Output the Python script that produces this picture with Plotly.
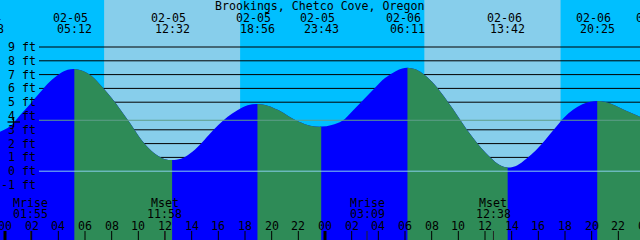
import plotly.graph_objects as go

# ---------------- data ----------------
TITLE = "Brookings, Chetco Cove, Oregon"
DAY_INDEX = {"02-04": -1, "02-05": 0, "02-06": 1, "02-07": 2}

# tide extremes (date, time, height ft, kind)
ext_dates = ["02-04", "02-05", "02-05", "02-05", "02-05", "02-06", "02-06", "02-06", "02-07"]
ext_times = ["22:38", "05:12", "12:32", "18:56", "23:43", "06:11", "13:42", "20:25", "00:55"]
ext_ft = [2.6, 7.41, 0.81, 4.87, 3.23, 7.50, 0.26, 5.09, 3.6]
ext_kind = ["low", "high", "low", "high", "low", "high", "low", "high", "low"]

# intermediate tide heights (hours after 02-05 00:00, ft)
curve_hours_read = [
    -0.375, 0.375, 1.125, 1.875, 2.625, 3.375, 4.125, 4.7,
    5.75, 6.5, 7.3, 8.0, 8.7, 9.4, 10.1, 10.8, 11.5, 12.0,
    13.2, 13.9, 14.6, 15.3, 16.0, 16.7, 17.4, 18.2,
    19.7, 20.5, 21.3, 22.1, 22.9,
    24.5, 25.3, 26.1, 26.9, 27.7, 28.5, 29.3, 29.8,
    30.8, 31.5, 32.2, 32.9, 33.6, 34.3, 35.0, 35.7, 36.4, 37.1,
    38.4, 39.1, 39.8, 40.5, 41.2, 41.9, 42.6, 43.3, 43.9,
    45.1, 45.8, 46.5, 47.2, 47.9,
]
curve_ft_read = [
    2.86, 3.25, 4.05, 4.85, 5.7, 6.5, 7.08, 7.35,
    7.3, 6.9, 6.1, 5.3, 4.4, 3.45, 2.45, 1.65, 1.1, 0.87,
    0.9, 1.3, 1.9, 2.65, 3.35, 3.95, 4.4, 4.78,
    4.75, 4.43, 3.97, 3.57, 3.3,
    3.35, 3.65, 4.4, 5.2, 6.0, 6.75, 7.25, 7.45,
    7.38, 6.95, 6.3, 5.45, 4.5, 3.5, 2.55, 1.7, 1.0, 0.45,
    0.42, 0.9, 1.5, 2.25, 3.05, 3.85, 4.45, 4.85, 5.03,
    5.0, 4.75, 4.42, 4.12, 3.85,
]

# daylight (sunrise, sunset pairs)
sun_dates = ["02-05", "02-05", "02-06", "02-06"]
sun_times = ["07:26", "17:38", "07:27", "17:40"]

# moon events
moon_labels = ["Mrise", "Mset", "Mrise", "Mset"]
moon_dates = ["02-05", "02-05", "02-06", "02-06"]
moon_times = ["01:55", "11:58", "03:09", "12:38"]

ft_labels = [9, 8, 7, 6, 5, 4, 3, 2, 1, 0, -1]
grid_ft = [9, 8, 7, 6, 5, 3, 2, 1]
mean_ft = 3.69
datum_ft = 0
hour_ticks = list(range(0, 48, 2))
hour_labels_at = list(range(0, 50, 2))

# ---------------- styles / geometry ----------------
W, H = 640, 240
X0, X1 = -0.375, 47.625
Y0, Y1 = -4.986, 12.406
NIGHT = "#00BFFF"
DAY = "#87CEEB"
RISE = "#0000FF"
FALL = "#2E8B57"
MEAN_C = "#5F9E8A"
DATUM_C = "#87CEEB"
FONT = dict(family="DejaVu Sans Mono", size=11.6, color="black")


def hrs(date, t):
    return DAY_INDEX[date] * 24 + int(t[:2]) + int(t[3:]) / 60.0


def paper_x(h):
    return (h - X0) / (X1 - X0)


def py(px):
    return 1 - px / H


ext_h = [hrs(d, t) for d, t in zip(ext_dates, ext_times)]
pts = sorted(list(zip(ext_h, ext_ft)) + list(zip(curve_hours_read, curve_ft_read)))
curve_h = [p[0] for p in pts]
curve_v = [p[1] for p in pts]

fig = go.Figure()
base_x = [X0 - 3, X1 + 3]
base_y = [Y0 - 2, Y0 - 2]

# rising (blue) water over the whole width
fig.add_trace(go.Scatter(x=base_x, y=base_y, mode="lines", line=dict(width=0),
                         hoverinfo="skip", showlegend=False))
fig.add_trace(go.Scatter(x=curve_h, y=curve_v, mode="lines",
                         line=dict(width=0, shape="spline", simplify=False),
                         fill="tonexty", fillcolor=RISE, hoverinfo="skip", showlegend=False))

layout_axes = {}
k = 2
for i in range(len(ext_h) - 1):
    if ext_kind[i] != "high":
        continue
    h0 = max(ext_h[i], X0)
    h1 = min(ext_h[i + 1], X1)
    if h1 <= h0:
        continue
    name = "x%d" % k
    layout_axes["xaxis%d" % k] = dict(domain=[paper_x(h0), paper_x(h1)], range=[h0, h1],
                                      anchor="y", visible=False, fixedrange=True)
    fig.add_trace(go.Scatter(x=base_x, y=base_y, xaxis=name, yaxis="y", mode="lines",
                             line=dict(width=0), hoverinfo="skip", showlegend=False))
    fig.add_trace(go.Scatter(x=curve_h, y=curve_v, xaxis=name, yaxis="y", mode="lines",
                             line=dict(width=0, shape="spline", simplify=False),
                             fill="tonexty", fillcolor=FALL, hoverinfo="skip", showlegend=False))
    k += 1

shapes = []
# daylight bands
sun_h = [hrs(d, t) for d, t in zip(sun_dates, sun_times)]
for j in range(0, len(sun_h), 2):
    shapes.append(dict(type="rect", xref="x", yref="paper", x0=sun_h[j], x1=sun_h[j + 1],
                       y0=0, y1=1, fillcolor=DAY, line=dict(width=0), layer="below"))
# foot grid lines (behind water)
gx0 = 39 / W
for v in grid_ft:
    shapes.append(dict(type="line", xref="paper", yref="y", x0=gx0, x1=1, y0=v, y1=v,
                       line=dict(color="black", width=1), layer="below"))
# mean and datum lines (over water)
shapes.append(dict(type="line", xref="paper", yref="y", x0=gx0, x1=1, y0=mean_ft, y1=mean_ft,
                   line=dict(color=MEAN_C, width=1), layer="above"))
shapes.append(dict(type="line", xref="paper", yref="y", x0=gx0, x1=1, y0=datum_ft, y1=datum_ft,
                   line=dict(color=DATUM_C, width=1), layer="above"))
# hour ticks
for h in hour_ticks:
    shapes.append(dict(type="line", xref="x", yref="paper", x0=h, x1=h, y0=0, y1=9 / H,
                       line=dict(color="black", width=3 if h % 24 == 0 else 1), layer="above"))
# moon ticks
moon_h = [hrs(d, t) for d, t in zip(moon_dates, moon_times)]
for h in moon_h:
    shapes.append(dict(type="line", xref="x", yref="paper", x0=h, x1=h, y0=0, y1=9 / H,
                       line=dict(color="#222222", width=1), layer="above"))
# small cross mark at the left
shapes.append(dict(type="line", xref="paper", yref="paper", x0=7.5 / W, x1=20 / W,
                   y0=py(122), y1=py(122), line=dict(color="black", width=1.3), layer="above"))
shapes.append(dict(type="line", xref="paper", yref="paper", x0=13.5 / W, x1=13.5 / W,
                   y0=py(117.5), y1=py(127), line=dict(color="black", width=1.3), layer="above"))

ann = []


def add_text(x, ypx, s, xshift=0):
    if X0 <= x <= X1:
        ann.append(dict(x=x, xref="x", y=py(ypx), yref="paper", text=s, showarrow=False,
                        font=FONT, xanchor="center", yanchor="middle", xshift=xshift))
    else:
        ann.append(dict(x=paper_x(x), xref="paper", y=py(ypx), yref="paper", text=s,
                        showarrow=False, font=FONT, xanchor="center", yanchor="middle",
                        xshift=xshift))


ann.append(dict(x=319 / W, xref="paper", y=py(6), yref="paper", text=TITLE, showarrow=False,
                font=FONT, xanchor="center", yanchor="middle"))
for h, d, t in zip(ext_h, ext_dates, ext_times):
    add_text(h, 17.7, d, xshift=-3.5)
    add_text(h, 29.3, t)
for h, lab, t in zip(moon_h, moon_labels, moon_times):
    add_text(h, 202.5, lab)
    add_text(h, 213.5, t)
for h in hour_labels_at:
    add_text(h, 225.8, "%02d" % (h % 24))
for v in ft_labels:
    ann.append(dict(x=37.5 / W, xref="paper", y=v, yref="y", text="%d ft" % v, showarrow=False,
                    font=FONT, xanchor="right", yanchor="middle"))

fig.update_layout(
    width=W, height=H, margin=dict(l=0, r=0, t=0, b=0, pad=0),
    paper_bgcolor=NIGHT, plot_bgcolor="rgba(0,0,0,0)", showlegend=False,
    xaxis=dict(range=[X0, X1], visible=False, fixedrange=True),
    yaxis=dict(range=[Y0, Y1], visible=False, fixedrange=True),
    shapes=shapes, annotations=ann,
    **layout_axes,
)

fig.write_html("out.html", config={"displayModeBar": False})
